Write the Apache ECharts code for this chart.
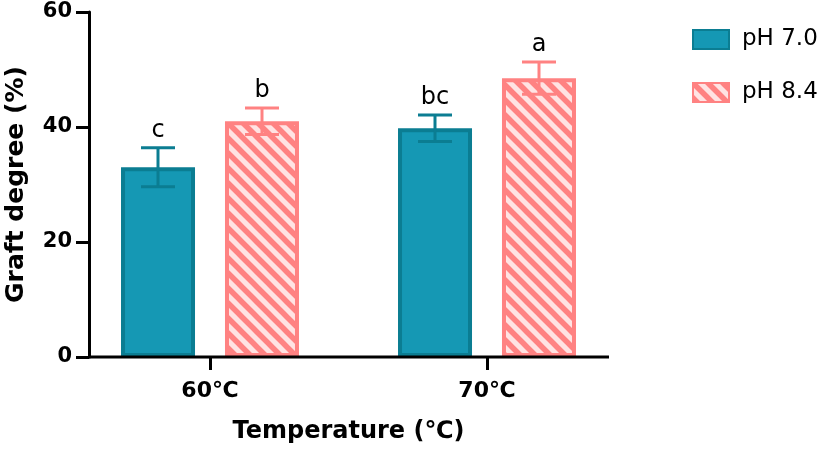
<!DOCTYPE html>
<html>
<head>
<meta charset="utf-8">
<script src="https://cdn.jsdelivr.net/npm/echarts@6/dist/echarts.min.js"></script>
<style>html,body{margin:0;padding:0;background:#fff;}#c{width:827px;height:451px;}</style>
</head>
<body>
<div id="c"></div>
<script>
// ---- data ----
var categories = ['60℃', '70℃'];
var seriesNames = ['pH 7.0', 'pH 8.4'];
var meanPH70 = [33.0, 39.8];
var sdPH70 = [3.4, 2.3];
var letterPH70 = ['c', 'bc'];
var meanPH84 = [41.0, 48.5];
var sdPH84 = [2.3, 2.8];
var letterPH84 = ['b', 'a'];
var yTicks = [0, 20, 40, 60];

// ---- styles ----
var FONT = 'DejaVu Sans, Liberation Sans, Arial, sans-serif';
var TEAL = '#1598b4', TEAL_DARK = '#0b7d92';
var PINK = '#ff8282', PINK_LIGHT = '#ffe3e3';
var BAR_W = 74, BORDER = 4, GAP = 30;

function stripePattern() {
  var s = 15, c = document.createElement('canvas');
  c.width = s; c.height = s;
  var ctx = c.getContext('2d');
  ctx.fillStyle = PINK_LIGHT; ctx.fillRect(0, 0, s, s);
  ctx.strokeStyle = PINK; ctx.lineWidth = 5.5;
  ctx.beginPath();
  for (var k = -1; k <= 1; k++) {
    ctx.moveTo(k * s - 2, -2); ctx.lineTo(k * s + s + 2, s + 2);
  }
  ctx.stroke();
  return c;
}
var pattern = { image: stripePattern(), repeat: 'repeat' };

var chart = echarts.init(document.getElementById('c'), null, { renderer: 'canvas' });

function errSeries(name, means, sds, letters, side, color) {
  var data = means.map(function (m, i) { return [i, m, sds[i]]; });
  return {
    type: 'custom',
    name: name + ' err',
    z: 5,
    data: data,
    renderItem: function (params, api) {
      var i = api.value(0), m = api.value(1), sd = api.value(2);
      var letter = letters[params.dataIndex];
      var c = api.coord([i, m]);
      var x = c[0] + side * (BAR_W + GAP) / 2;
      var yTop = api.coord([i, m + sd])[1];
      var yBot = api.coord([i, m - sd])[1];
      var half = 17;
      var st = { stroke: color, lineWidth: 3 };
      return {
        type: 'group',
        children: [
          { type: 'line', shape: { x1: x, y1: yTop, x2: x, y2: yBot }, style: st },
          { type: 'line', shape: { x1: x - half, y1: yTop, x2: x + half, y2: yTop }, style: st },
          { type: 'line', shape: { x1: x - half, y1: yBot, x2: x + half, y2: yBot }, style: st },
          { type: 'text', x: x, y: yTop - 5, style: { text: letter, fontSize: 24, fontFamily: FONT, fill: '#000', align: 'center', verticalAlign: 'bottom' } }
        ]
      };
    }
  };
}

var option = {
  animation: false,
  backgroundColor: '#fff',
  grid: { left: 71.5, right: 201.5, top: 12, bottom: 94, containLabel: false, outerBoundsMode: 'none' },
  legend: {
    orient: 'vertical', left: 687, top: 23, itemWidth: 36, itemHeight: 19, itemGap: 30,
    icon: 'rect',
    data: seriesNames,
    textStyle: { fontSize: 23, fontFamily: FONT, color: '#000', padding: [0, 0, 0, 8] }
  },
  xAxis: {
    type: 'category', data: categories,
    axisLine: { show: false },
    axisTick: { show: true, alignWithLabel: true, length: 13, lineStyle: { width: 3, color: '#000' } },
    axisLabel: { fontSize: 22, fontWeight: 'bold', fontFamily: FONT, color: '#000', margin: 23 },
    name: 'Temperature (℃)', nameLocation: 'middle', nameGap: 63,
    nameTextStyle: { fontSize: 24, fontWeight: 'bold', fontFamily: FONT, color: '#000' }
  },
  yAxis: {
    type: 'value', min: 0, max: 60, interval: 20, offset: -17.5,
    axisLine: { show: true, lineStyle: { width: 3, color: '#000' } },
    axisTick: { show: true, length: 13, lineStyle: { width: 3, color: '#000' } },
    splitLine: { show: false },
    axisLabel: { fontSize: 21, fontWeight: 'bold', fontFamily: FONT, color: '#000', margin: 17,
      formatter: function (v) { return yTicks.indexOf(v) >= 0 ? String(v) : ''; } },
    name: 'Graft degree (%)', nameLocation: 'middle', nameGap: 60, nameRotate: 90,
    nameTextStyle: { fontSize: 25, fontWeight: 'bold', fontFamily: FONT, color: '#000' }
  },
  series: [
    {
      type: 'bar', name: seriesNames[0], data: meanPH70, barWidth: BAR_W,
      barGap: (GAP / BAR_W * 100).toFixed(1) + '%',
      itemStyle: { color: TEAL, borderColor: TEAL_DARK, borderWidth: BORDER }
    },
    {
      type: 'bar', name: seriesNames[1], data: meanPH84, barWidth: BAR_W,
      itemStyle: { color: pattern, borderColor: PINK, borderWidth: BORDER }
    },
    errSeries(seriesNames[0], meanPH70, sdPH70, letterPH70, -1, TEAL_DARK),
    errSeries(seriesNames[1], meanPH84, sdPH84, letterPH84, 1, PINK)
  ],
  graphic: [
    { type: 'line', shape: { x1: 88, y1: 357, x2: 609, y2: 357 }, style: { stroke: '#000', lineWidth: 3 }, z: 10 }
  ]
};
chart.setOption(option);
</script>
</body>
</html>
